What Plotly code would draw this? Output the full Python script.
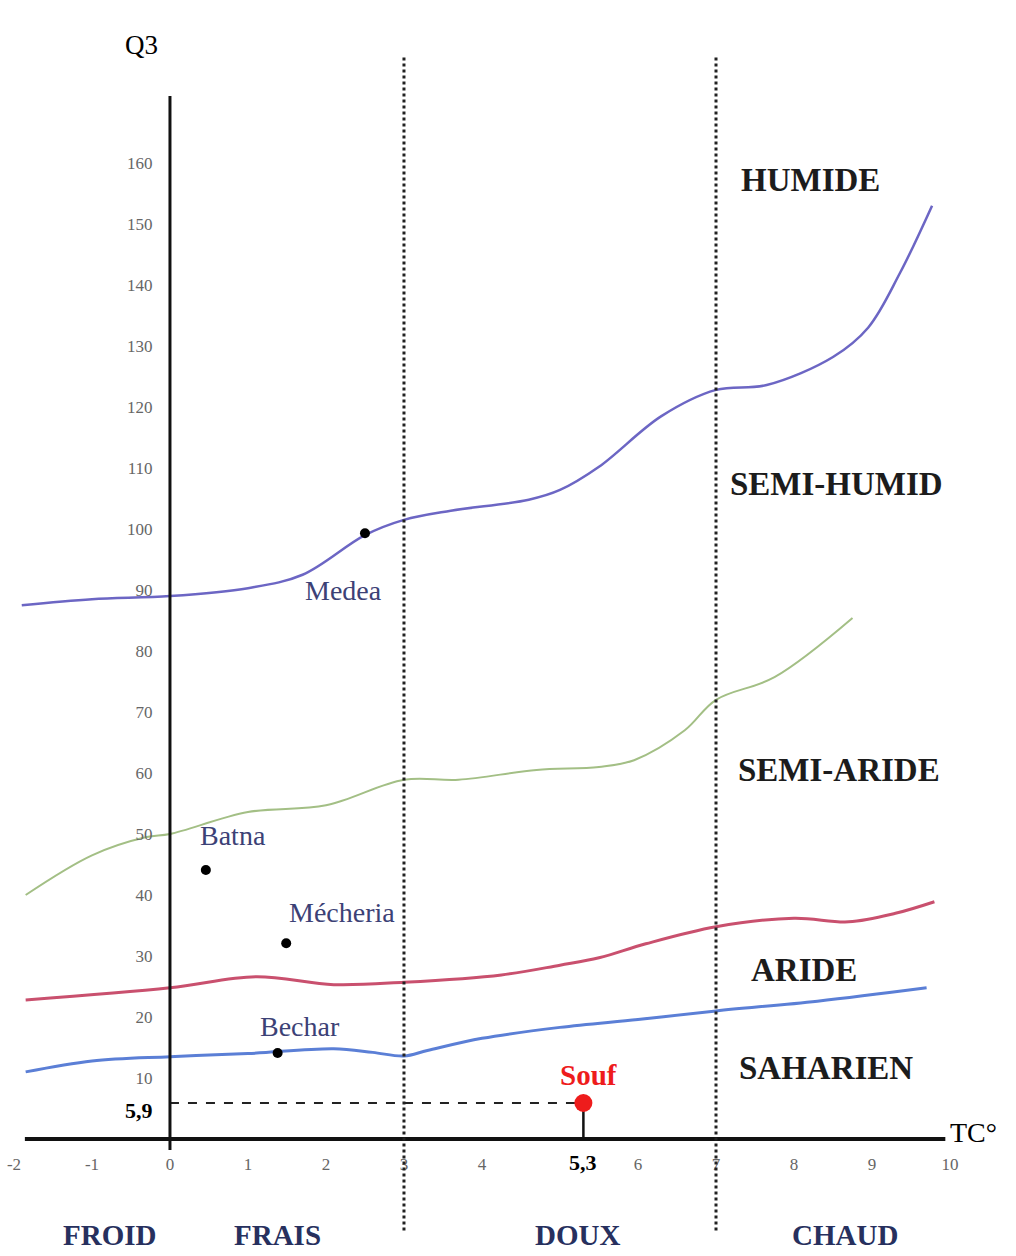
import plotly.graph_objects as go

# ---- data (Emberger climagram) ----
humide_T = [-1.9, -1, 0, 1, 1.7, 2.5, 3, 3.6, 4.6, 5, 5.5, 6.3, 7, 7.65, 8.5, 8.95, 9.36, 9.77]
humide_Q = [87.5, 88.5, 89, 90.3, 92.5, 99, 101.5, 103, 104.8, 106.4, 110.2, 118.5, 122.8, 123.6, 128.2, 133, 142, 153]

semiaride_T = [-1.85, -1, -0.3, 0, 1, 2, 3, 3.7, 4.7, 5.5, 5.95, 6.6, 7, 7.75, 8.75]
semiaride_Q = [40, 46.5, 49.5, 50, 53.6, 54.7, 58.9, 58.9, 60.5, 61, 62.1, 67, 72, 75.7, 85.4]

aride_T = [-1.85, 0, 1.1, 2.1, 3, 4.25, 5, 5.5, 6.1, 7, 8, 8.7, 9.3, 9.8]
aride_Q = [22.8, 24.8, 26.6, 25.3, 25.7, 26.9, 28.5, 29.7, 32, 34.8, 36.2, 35.6, 37, 38.9]

saharien_T = [-1.85, -1, 0, 1, 2.1, 2.6, 3, 3.3, 4, 5, 6, 7, 8.3, 9.7]
saharien_Q = [11, 12.8, 13.5, 14, 14.8, 14.2, 13.6, 14.5, 16.5, 18.3, 19.6, 21, 22.6, 24.8]

stations = ["Medea", "Batna", "Mécheria", "Bechar"]
station_T = [2.5, 0.46, 1.49, 1.38]
station_Q = [99.3, 44.1, 32.1, 14.1]

souf_T = [5.3]
souf_Q = [5.9]

x_ticks = [-2, -1, 0, 1, 2, 3, 4, 6, 7, 8, 9, 10]
y_ticks = [10, 20, 30, 40, 50, 60, 70, 80, 90, 100, 110, 120, 130, 140, 150, 160]
zone_limits_T = [3, 7]

SERIF = "Liberation Serif"

fig = go.Figure()

curves = [
    (humide_T, humide_Q, "#6c66c4", 2.5),
    (semiaride_T, semiaride_Q, "#a3bf85", 2),
    (aride_T, aride_Q, "#c9506e", 3),
    (saharien_T, saharien_Q, "#5b7fd6", 3),
]
for tx, qy, col, w in curves:
    fig.add_trace(go.Scatter(x=tx, y=qy, mode="lines",
                             line=dict(color=col, width=w, shape="spline", smoothing=1.0),
                             hoverinfo="skip", showlegend=False))

# axes lines
fig.add_shape(type="line", x0=0, x1=0, y0=-1.8, y1=171, line=dict(color="#111", width=3))
fig.add_shape(type="line", x0=-1.86, x1=9.94, y0=0, y1=0, line=dict(color="#111", width=4))
# zone limits
for t in zone_limits_T:
    fig.add_shape(type="line", x0=t, x1=t, y0=-15, y1=177.7,
                  line=dict(color="#222", width=3, dash="dot"))

# Souf guide lines
fig.add_trace(go.Scatter(x=[0, souf_T[0]], y=[souf_Q[0], souf_Q[0]], mode="lines",
                         line=dict(color="#222", width=2, dash="dash"),
                         hoverinfo="skip", showlegend=False))
fig.add_trace(go.Scatter(x=[souf_T[0], souf_T[0]], y=[0, souf_Q[0]], mode="lines",
                         line=dict(color="#111", width=2.5),
                         hoverinfo="skip", showlegend=False))

# station points
fig.add_trace(go.Scatter(x=station_T, y=station_Q, mode="markers",
                         marker=dict(color="black", size=10),
                         hoverinfo="skip", showlegend=False))
fig.add_trace(go.Scatter(x=souf_T, y=souf_Q, mode="markers",
                         marker=dict(color="#ee1c1c", size=18),
                         hoverinfo="skip", showlegend=False))

def ann(text, x, y, size, color, bold=False, xanchor="center"):
    t = f"<b>{text}</b>" if bold else text
    fig.add_annotation(x=x, y=y, text=t, showarrow=False, xanchor=xanchor, yanchor="middle",
                       font=dict(family=SERIF, size=size, color=color))

# zone names
ann("HUMIDE", 8.21, 157.2, 33, "#1c1c1c", True)
ann("SEMI-HUMID", 8.55, 107.3, 33, "#1c1c1c", True)
ann("SEMI-ARIDE", 8.58, 60.5, 33, "#1c1c1c", True)
ann("ARIDE", 8.13, 27.7, 33, "#1c1c1c", True)
ann("SAHARIEN", 8.41, 11.6, 33, "#1c1c1c", True)
# temperature classes
for name, tx in [("FROID", -0.77), ("FRAIS", 1.38), ("DOUX", 5.22), ("CHAUD", 8.65)]:
    ann(name, tx, -15.7, 29, "#27305e", True)
# station labels
for name, tx, qy in [("Medea", 2.22, 90.0), ("Batna", 0.81, 49.7),
                     ("Mécheria", 2.21, 37.2), ("Bechar", 1.67, 18.4)]:
    ann(name, tx, qy, 28, "#3c4176")
ann("Souf", 5.37, 10.5, 29, "#ee1c1c", True)
ann("5,9", -0.19, 4.75, 22, "#000", True, xanchor="right")
ann("5,3", 5.3, -3.8, 22, "#000", True)
ann("TC°", 9.97, 1.0, 28, "#000", False, xanchor="left")
ann("Q3", -0.36, 179.3, 27, "#000")

fig.update_layout(
    width=1016, height=1256,
    margin=dict(l=0, r=0, t=0, b=0),
    paper_bgcolor="white", plot_bgcolor="white",
    showlegend=False,
    xaxis=dict(range=[-2.179, 10.846], anchor="free", position=(1256 - 1137) / 1256,
               showgrid=False, zeroline=False, showline=False,
               tickvals=x_ticks, ticktext=[str(v) for v in x_ticks],
               ticks="outside", ticklen=12, tickcolor="rgba(0,0,0,0)",
               tickfont=dict(family=SERIF, size=17, color="#666")),
    yaxis=dict(range=[-19.18, 186.72], anchor="free", position=170 / 1016,
               showgrid=False, zeroline=False, showline=False,
               tickvals=y_ticks, ticktext=[str(v) for v in y_ticks],
               ticks="outside", ticklen=14, tickcolor="rgba(0,0,0,0)",
               tickfont=dict(family=SERIF, size=17, color="#666")),
)

fig.write_html("out.html", config={"displayModeBar": False},
               post_script="document.body.style.margin='0';")
